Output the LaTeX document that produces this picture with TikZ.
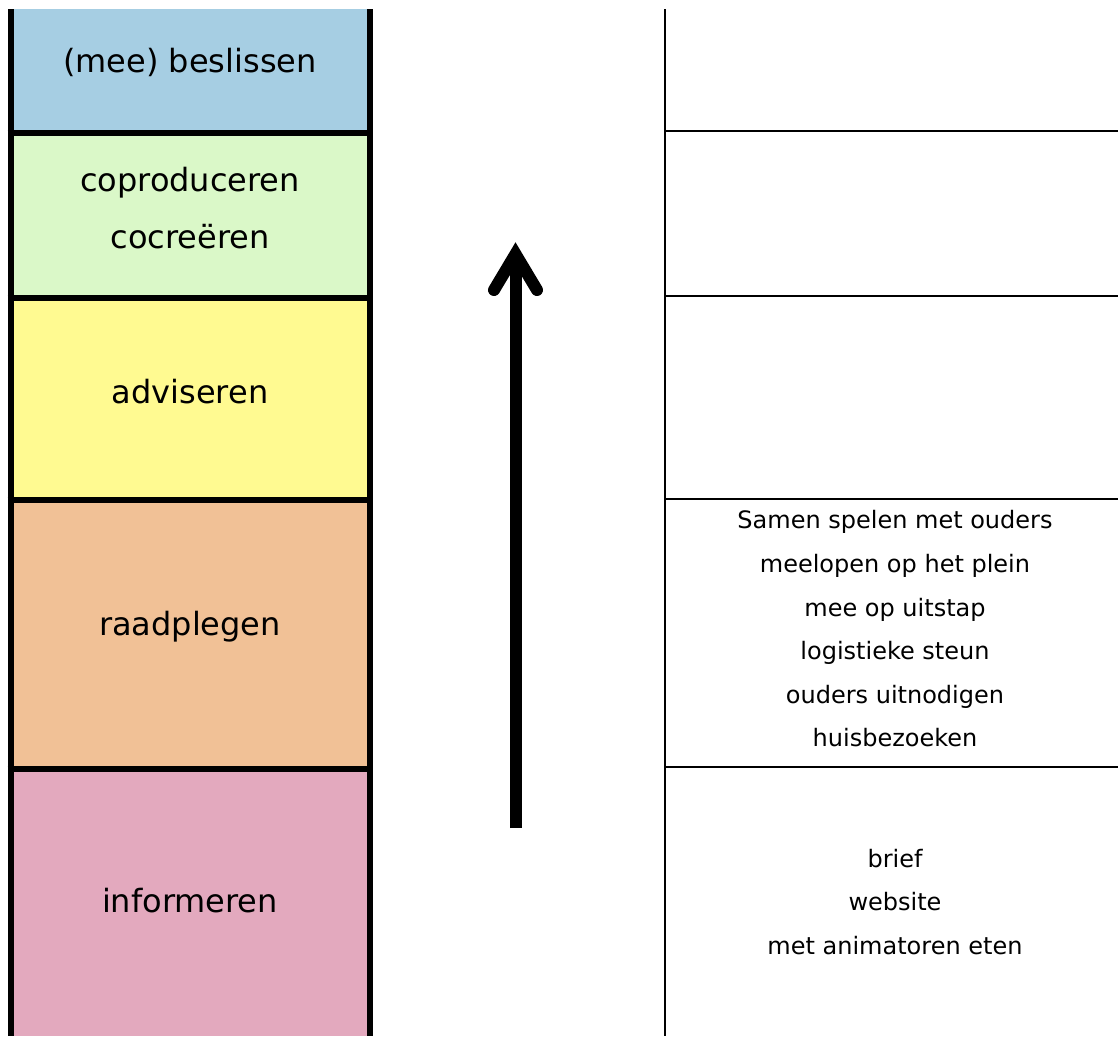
\documentclass[tikz,border=0pt]{standalone}
\usepackage{fontspec}
\setmainfont{DejaVu Sans}
\usetikzlibrary{positioning}
\definecolor{colordecide}  {RGB}{166,206,227}
\definecolor{colorcreate}  {RGB}{218,248,200}
\definecolor{coloradvise}  {RGB}{255,250,145}
\definecolor{colorconsult} {RGB}{241,193,150}
\definecolor{colorinform}  {RGB}{227,169,190}

\begin{document}
\begin{tikzpicture}[
    x=1pt, y=-1pt,
    level/.style={text=black,align=center,font={\fontsize{32}{57}\selectfont}},
    item/.style={text=black,align=center,font={\fontsize{24}{43.6}\selectfont}},
    bar/.style={line width=6pt},
    rule/.style={line width=2pt},
]
    \useasboundingbox (0,0) rectangle (1118,1036);

    \fill[colordecide]  (10.5,9)     rectangle (369.5,132.5);
    \fill[colorcreate]  (10.5,132.5) rectangle (369.5,298);
    \fill[coloradvise]  (10.5,298)   rectangle (369.5,500);
    \fill[colorconsult] (10.5,500)   rectangle (369.5,769);
    \fill[colorinform]  (10.5,769)   rectangle (369.5,1036);
    \draw[bar] (10.5,9) -- (10.5,1036);
    \draw[bar] (369.5,9) -- (369.5,1036);
    \foreach \y in {132.5,298,500,769}
        \draw[bar] (7.5,\y) -- (372.5,\y);

    \node[level] (decide)  at (190,62)    {(mee) beslissen};
    \node[level] (create)  at (190,208.5) {coproduceren\\cocreëren};
    \node[level] (advise)  at (190,392)   {adviseren};
    \node[level] (consult) at (190,627)   {raadplegen};
    \node[level] (inform)  at (190,901)   {informeren};

    \coordinate (base)  at (515.5,828);
    \coordinate (tip)   at (515.5,254);
    \coordinate (barbl) at (494,290);
    \coordinate (barbr) at (537,290);
    \draw[line width=12pt] (base) -- (tip);
    \draw[line width=12pt,line cap=round] (barbl) -- (tip) -- (barbr);

    \draw[rule] (665,9) -- (665,1036);
    \foreach \y in {130.5,296,499,766.5}
        \draw[rule] (665,\y) -- (1118,\y);

    \node[item] (consultitems) at (895,629) {Samen spelen met ouders\\
    meelopen op het plein\\
    mee op uitstap\\
    logistieke steun\\
    ouders uitnodigen\\
    huisbezoeken};
    \node[item] (informitems) at (895,902) {brief\\
    website\\
    met animatoren eten};

\end{tikzpicture}
\end{document}
